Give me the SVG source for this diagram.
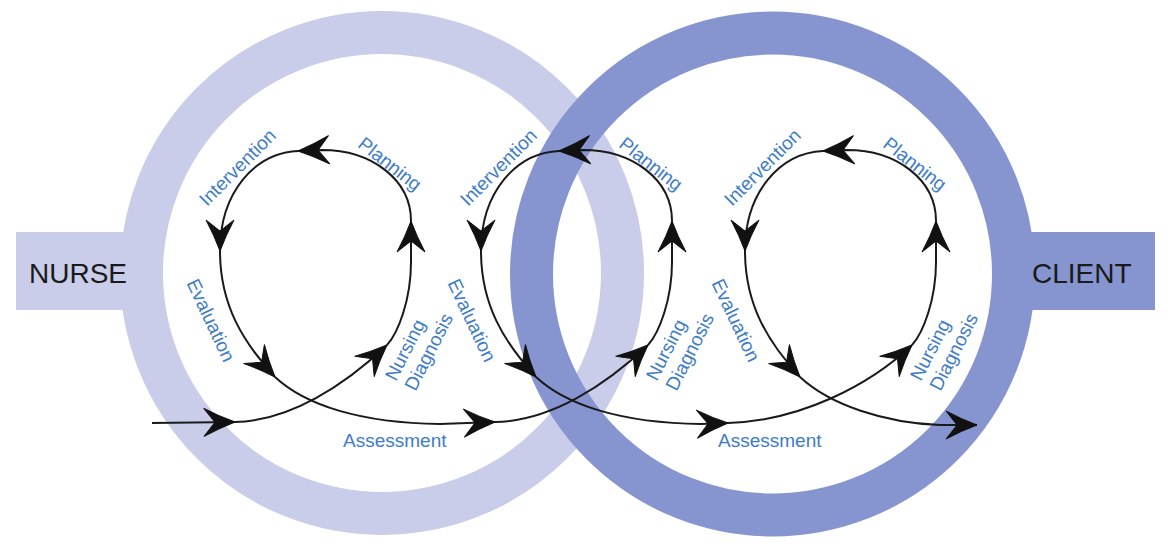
<svg xmlns="http://www.w3.org/2000/svg" width="1171" height="547" viewBox="0 0 1171 547">
<defs>
<style>
.lbl{font-family:"Liberation Sans",Arial,sans-serif;font-size:19px;fill:#3d7cc9}
.big{font-family:"Liberation Sans",Arial,sans-serif;font-size:28px;fill:#1a1a1a}
.c{fill:none;stroke:#1a1a1a;stroke-width:2;marker-end:url(#ah)}
.ringL{fill:none;stroke:#c9cdea;stroke-width:43}
.ringD{fill:none;stroke:#8695cf;stroke-width:43}
</style>
<marker id="ah" viewBox="0 -15 34 30" refX="32" refY="0" markerWidth="34" markerHeight="30" markerUnits="userSpaceOnUse" orient="auto">
<path d="M32,0 Q16,-6 1,-14 L12,0 L1,14 Q16,6 32,0 Z" fill="#111" stroke="#111" stroke-width="1" stroke-linejoin="round"/>
</marker>
<g id="loopBody">
<path class="c" d="M387,345 C398,333 411,300 411,262 L411,221"/>
<path class="c" d="M411,221 C411,180 372,150 322,150 L298,151"/>
<path class="c" d="M298,151 C255,153 220,192 220,251"/>
<path class="c" d="M220,251 C220,305 243,342 275,377"/>
</g>
<g id="loopLabels">
<text class="lbl" transform="translate(242,172) rotate(-45)" text-anchor="middle">Intervention</text>
<text class="lbl" transform="translate(386,169) rotate(38)" text-anchor="middle">Planning</text>
<text class="lbl" transform="translate(205,323) rotate(65)" text-anchor="middle">Evaluation</text>
<text class="lbl" transform="translate(396,382) rotate(-63)"><tspan x="0" y="0">Nursing</tspan><tspan x="0" y="22">Diagnosis</tspan></text>
</g>
</defs>
<rect width="1171" height="547" fill="#ffffff"/>
<g id="nurse">
<rect x="16" y="232" width="112" height="78" fill="#c9cdea"/>
<circle class="ringL" cx="382" cy="273" r="240.5"/>
</g>
<g id="client">
<rect x="1025" y="232" width="130" height="78" fill="#8695cf"/>
<circle class="ringD" cx="772.5" cy="274" r="241"/>
</g>
<g id="nurse-label"><text class="big" x="29" y="283">NURSE</text></g>
<g id="client-label"><text class="big" x="1032" y="283">CLIENT</text></g>
<g id="connectors">
<path class="c" d="M152,423 L235,422"/>
<path class="c" d="M235,422 C290,421 345,385 387,345"/>
<path class="c" d="M495,422 C551,421 606,385 648,345"/>
<path class="c" d="M728,423 C800,421 870,385 912,345"/>
<use href="#loopBody"/>
<use href="#loopBody" transform="translate(261,0)"/>
<use href="#loopBody" transform="translate(525,0)"/>
<path class="c" d="M275,377 C305,405 360,423 440,424 L495,422"/>
<path class="c" d="M536,377 C566,405 621,423 701,424 L728,423"/>
<path class="c" d="M800,377 C830,405 885,423 940,425 L977,425"/>
</g>
<g id="cycle-1"><use href="#loopLabels"/></g>
<g id="cycle-2"><use href="#loopLabels" transform="translate(261,0)"/></g>
<g id="cycle-3"><use href="#loopLabels" transform="translate(525,0)"/></g>
<g id="assessment-1"><text class="lbl" x="343" y="447">Assessment</text></g>
<g id="assessment-2"><text class="lbl" x="718" y="447">Assessment</text></g>
</svg>
